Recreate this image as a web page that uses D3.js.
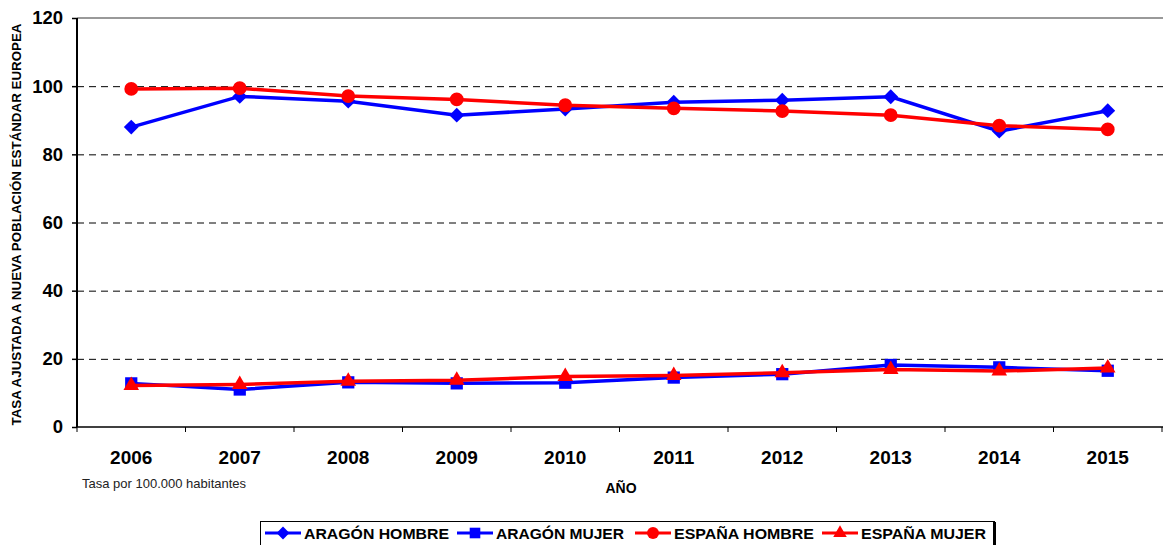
<!DOCTYPE html>
<html><head><meta charset="utf-8">
<script src="https://cdn.jsdelivr.net/npm/d3@7"></script>
<style>body{margin:0;background:#fff;}svg{display:block;}</style>
</head><body>
<svg id="c" width="1163" height="545"></svg>
<script>
const years = ["2006","2007","2008","2009","2010","2011","2012","2013","2014","2015"];
const aragonHombre = [88.0, 97.0, 95.6, 91.5, 93.3, 95.3, 95.9, 96.9, 86.8, 92.8];
const aragonMujer = [12.8, 11.0, 13.1, 12.8, 13.0, 14.5, 15.5, 18.2, 17.5, 16.5];
const espanaHombre = [99.2, 99.4, 97.1, 96.1, 94.4, 93.5, 92.7, 91.5, 88.4, 87.3];
const espanaMujer = [12.2, 12.5, 13.4, 13.7, 14.8, 15.1, 15.9, 16.9, 16.4, 17.3];
const yTicks = [0, 20, 40, 60, 80, 100, 120];
const seriesNames = ["ARAGÓN HOMBRE","ARAGÓN MUJER","ESPAÑA HOMBRE","ESPAÑA MUJER"];

const series = [
  {name: seriesNames[0], values: aragonHombre, color: "#0000ff", sym: d3.symbolSquare, size: 110, rot: 45},
  {name: seriesNames[1], values: aragonMujer, color: "#0000ff", sym: d3.symbolSquare, size: 150, rot: 0},
  {name: seriesNames[2], values: espanaHombre, color: "#ff0000", sym: d3.symbolCircle, size: 150, rot: 0},
  {name: seriesNames[3], values: espanaMujer, color: "#ff0000", sym: d3.symbolTriangle, size: 105, rot: 0}
];

const FONT = "Liberation Sans, Arial, sans-serif";
const svg = d3.select("#c");
const L = 77, R = 1162, T = 18, B = 427;
const x = d3.scaleBand().domain(years).range([L, R]);
const y = d3.scaleLinear().domain([0, 120]).range([B, T]);

// gridlines
svg.append("g").selectAll("line").data(yTicks.filter(v => v > 0 && v < 120)).join("line")
  .attr("x1", L).attr("x2", 1163).attr("y1", d => y(d) + 0.5).attr("y2", d => y(d) + 0.5)
  .attr("stroke", "#000").attr("stroke-width", 1).attr("stroke-dasharray", "7,5");
// top border
svg.append("line").attr("x1", L).attr("x2", 1163).attr("y1", y(120)).attr("y2", y(120))
  .attr("stroke", "#999").attr("stroke-width", 2);

// y axis
const ya = svg.append("g").attr("transform", `translate(${L},0)`)
  .call(d3.axisLeft(y).tickValues(yTicks).tickSize(5).tickPadding(9));
ya.select(".domain").attr("stroke", "#000").attr("stroke-width", 2).attr("d", `M0,${B}V${T}`);
ya.selectAll(".tick line").attr("stroke", "#000").attr("stroke-width", 1.5);
ya.selectAll("text").attr("font-family", FONT)
  .attr("font-weight", "bold").attr("font-size", 18.5).attr("fill", "#000");

// x axis
const xa = svg.append("g").attr("transform", `translate(0,${B})`)
  .call(d3.axisBottom(x).tickSize(0).tickPadding(24));
xa.select(".domain").attr("stroke", "#000").attr("stroke-width", 1.5).attr("d", `M${L},0H1163`);
xa.selectAll("text").attr("font-family", FONT)
  .attr("font-weight", "bold").attr("font-size", 19).attr("fill", "#000");
// boundary ticks
const bounds = years.map(d => x(d)).concat([R]);
xa.append("g").selectAll("line").data(bounds).join("line")
  .attr("x1", d => d).attr("x2", d => d).attr("y1", 0).attr("y2", 5)
  .attr("stroke", "#000").attr("stroke-width", 1);

// lines and markers
const cx = d => x(d) + x.bandwidth() / 2;
series.forEach(s => {
  const g = svg.append("g");
  g.append("path").datum(s.values)
    .attr("d", d3.line().x((d, i) => cx(years[i])).y(d => y(d)))
    .attr("fill", "none").attr("stroke", s.color).attr("stroke-width", 3.5);
  g.selectAll("path.m").data(s.values).join("path").attr("class", "m")
    .attr("transform", (d, i) => `translate(${cx(years[i])},${y(d)}) rotate(${s.rot})`)
    .attr("d", d3.symbol().type(s.sym).size(s.size))
    .attr("fill", s.color);
});

// titles
svg.append("text").attr("transform", `translate(21,${(T + B) / 2 + 2}) rotate(-90)`)
  .attr("text-anchor", "middle").attr("font-family", FONT)
  .attr("font-weight", "bold").attr("font-size", 13)
  .attr("textLength", 402).attr("lengthAdjust", "spacingAndGlyphs")
  .text("TASA AJUSTADA A NUEVA POBLACIÓN ESTÁNDAR EUROPEA");
svg.append("text").attr("x", 621).attr("y", 493).attr("text-anchor", "middle")
  .attr("font-family", FONT).attr("font-weight", "bold")
  .attr("font-size", 14).text("AÑO");
svg.append("text").attr("x", 82).attr("y", 488)
  .attr("font-family", FONT).attr("font-size", 13)
  .attr("fill", "#222").text("Tasa por 100.000 habitantes");

// legend
const lg = svg.append("g");
lg.append("rect").attr("x", 260.5).attr("y", 521.5).attr("width", 734).attr("height", 30)
  .attr("fill", "#fff").attr("stroke", "#000").attr("stroke-width", 1);
lg.append("line").attr("x1", 994.5).attr("x2", 994.5).attr("y1", 522).attr("y2", 545)
  .attr("stroke", "#000").attr("stroke-width", 3);
const legX = [265, 457, 635, 822];
const legW = [145, 128, 140, 125];
series.forEach((s, i) => {
  const gx = legX[i], gy = 533;
  lg.append("line").attr("x1", gx).attr("x2", gx + 36).attr("y1", gy).attr("y2", gy)
    .attr("stroke", s.color).attr("stroke-width", 3);
  lg.append("path").attr("transform", `translate(${gx + 18},${gy}) rotate(${s.rot})`)
    .attr("d", d3.symbol().type(s.sym).size(s.size * 0.75)).attr("fill", s.color);
  lg.append("text").attr("x", gx + 39).attr("y", gy + 6)
    .attr("font-family", FONT)
    .attr("font-weight", "bold").attr("font-size", 15)
    .attr("textLength", legW[i]).attr("lengthAdjust", "spacingAndGlyphs")
    .text(s.name);
});
</script>
</body></html>
